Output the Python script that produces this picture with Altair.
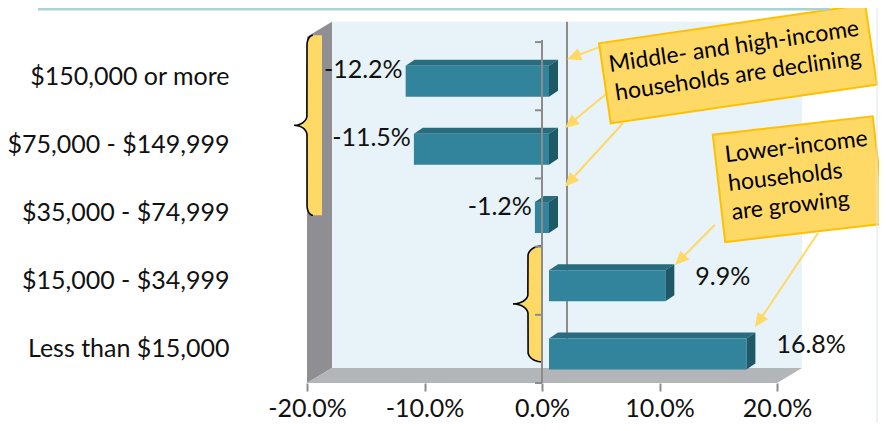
import json
import math
import altair as alt
import pandas as pd

# ---------------- data ----------------
categories = ["$150,000 or more", "$75,000 - $149,999", "$35,000 - $74,999",
              "$15,000 - $34,999", "Less than $15,000"]
changes = [-12.2, -11.5, -1.2, 9.9, 16.8]
x_ticks = [-20, -10, 0, 10, 20]

callout_1 = "Middle- and high-income\nhouseholds are declining"
callout_2 = "Lower-income\nhouseholds\nare growing"

# ---------------- layout ----------------
FONT = "Lato"
X_MIN, X_END = -20, 20
PX_X = 11.75                      # pixels per percentage point
W = 572
X_MAX = X_MIN + W / PX_X
H = 375
Y_MIN, Y_MAX = -0.5, 5.0
PX_Y = H / (Y_MAX - Y_MIN)
DX = 25 / PX_X                    # 3-D depth
DY = 15 / PX_Y
WALL_TOP = 4.8

FRONT, TOP, SIDE = "#31849B", "#286C7E", "#1F5867"
YELLOW, GOLD = "#FFD966", "#FFC000"

def px(v):
    return v / PX_X

def py(v):
    return v / PX_Y

xs = alt.Scale(domain=[X_MIN, X_MAX], nice=False, zero=False)
ys = alt.Scale(domain=[Y_MIN, Y_MAX], nice=False, zero=False)

n = len(categories)
bars = pd.DataFrame({
    "name": categories,
    "idx": [n - 1 - i for i in range(n)],
    "value": changes,
})
bars["lo"] = bars["value"].clip(upper=0)
bars["hi"] = bars["value"].clip(lower=0)

label_expr = "%s[datum.value]" % json.dumps(list(reversed(categories)))

# ---------------- walls ----------------
back = alt.Chart(pd.DataFrame({"x": [X_MIN + DX], "x2": [X_END + DX],
                               "y": [Y_MIN + DY], "y2": [WALL_TOP]})).mark_rect(
    color="#E7F3F8").encode(
    x=alt.X("x:Q", scale=xs,
            axis=alt.Axis(values=x_ticks, title=None, domain=False, grid=False,
                          tickSize=8, tickWidth=2, tickColor="#8C8C8C",
                          labelExpr="(datum.value < 0 ? '-' : '') + format(abs(datum.value), '.1f') + '%'",
                          labelFont=FONT, labelFontSize=25, labelColor="#111",
                          labelFlush=False, labelOverlap=False, labelPadding=5)),
    x2="x2:Q",
    y=alt.Y("y:Q", scale=ys,
            axis=alt.Axis(values=list(range(n)), title=None, domain=False, grid=False,
                          ticks=False, labelExpr=label_expr, labelFont=FONT,
                          labelFontSize=25, labelColor="#111", labelPadding=78,
                          labelLimit=0, labelFlush=False, labelOverlap=False)),
    y2="y2:Q",
)

left_wall = alt.Chart(pd.DataFrame({
    "x": [X_MIN, X_MIN + DX], "y": [Y_MIN, Y_MIN + DY],
    "y2": [WALL_TOP - DY, WALL_TOP]})).mark_area(
    orient="vertical", color="#8E8E93").encode(
    x=alt.X("x:Q", scale=xs), y=alt.Y("y:Q", scale=ys), y2="y2:Q")

floor = alt.Chart(pd.DataFrame({
    "y": [Y_MIN, Y_MIN + DY], "x": [X_MIN, X_MIN + DX],
    "x2": [X_END, X_END + DX]})).mark_area(
    orient="horizontal", color="#B2B6B9").encode(
    x=alt.X("x:Q", scale=xs), x2="x2:Q", y=alt.Y("y:Q", scale=ys))

back_zero = alt.Chart(pd.DataFrame({"x": [DX], "y": [Y_MIN + DY], "y2": [WALL_TOP]})).mark_rule(
    color="#8C8C8C", strokeWidth=2).encode(
    x=alt.X("x:Q", scale=xs), y=alt.Y("y:Q", scale=ys), y2="y2:Q")

# ---------------- braces ----------------
def brace(x0, y_top, y_bot, hook, tip, r, fill_to):
    pts = []
    ym = (y_top + y_bot) / 2
    steps = 12
    for k in range(steps + 1):          # top hook
        t = k / steps * math.pi / 2
        pts.append((x0 + px(hook) - px(hook) * math.sin(t), y_top - py(r) + py(r) * math.cos(t)))
    for k in range(1, steps + 1):       # to tip (upper half)
        t = k / steps * math.pi / 2
        pts.append((x0 - px(tip) + px(tip) * math.cos(t), ym + py(r) - py(r) * math.sin(t)))
    for k in range(1, steps + 1):       # from tip (lower half)
        t = k / steps * math.pi / 2
        pts.append((x0 - px(tip) + px(tip) * math.sin(t), ym - py(r) + py(r) * math.cos(t)))
    for k in range(1, steps + 1):       # bottom hook
        t = k / steps * math.pi / 2
        pts.append((x0 + px(hook) - px(hook) * math.cos(t), y_bot + py(r) - py(r) * math.sin(t)))
    df = pd.DataFrame(pts, columns=["x", "y"])
    df["x2"] = fill_to
    df["order"] = range(len(df))
    fill = alt.Chart(df).mark_area(orient="horizontal", color=YELLOW).encode(
        x=alt.X("x:Q", scale=xs), x2="x2:Q", y=alt.Y("y:Q", scale=ys))
    line = alt.Chart(df).mark_line(color="black", strokeWidth=1.6).encode(
        x=alt.X("x:Q", scale=xs), y=alt.Y("y:Q", scale=ys), order="order:Q")
    return fill + line

brace_top = brace(X_MIN, 4.60, 1.96, 6, 13, 10, X_MIN + px(15))
brace_low = brace(-px(14), 1.51, -0.19, 14, 15, 10, 0)

# ---------------- 3-D bars ----------------
OX, OY = px(7), py(5)          # front face offset
BX, BY = px(9), py(6)          # bar depth
HALF = py(15.5)

top_rows, side_rows = [], []
for _, r in bars.iterrows():
    nm, idx, lo, hi = r["name"], r["idx"], r["lo"], r["hi"]
    yt = idx + HALF - OY
    yb = idx - HALF - OY
    top_rows += [dict(name=nm, y=yt, x=lo + OX, x2=hi + OX),
                 dict(name=nm, y=yt + BY, x=lo + OX + BX, x2=hi + OX + BX)]
    side_rows += [dict(name=nm, x=hi + OX, y=yb, y2=yt),
                  dict(name=nm, x=hi + OX + BX, y=yb + BY, y2=yt + BY)]

bar_top = alt.Chart(pd.DataFrame(top_rows)).mark_area(orient="horizontal", color=TOP).encode(
    x=alt.X("x:Q", scale=xs), x2="x2:Q", y=alt.Y("y:Q", scale=ys), detail="name:N")
bar_side = alt.Chart(pd.DataFrame(side_rows)).mark_area(orient="vertical", color=SIDE).encode(
    x=alt.X("x:Q", scale=xs), y=alt.Y("y:Q", scale=ys), y2="y2:Q", detail="name:N")
bar_front = alt.Chart(bars).transform_calculate(
    yb=f"datum.idx - {HALF} - {OY}", yt=f"datum.idx + {HALF} - {OY}",
    xl=f"datum.lo + {OX}", xr=f"datum.hi + {OX}").mark_rect(color=FRONT).encode(
    x=alt.X("xl:Q", scale=xs), x2="xr:Q", y=alt.Y("yb:Q", scale=ys), y2="yt:Q")

# ---------------- front value axis ----------------
front_axis = alt.Chart(pd.DataFrame({"x": [0], "y": [Y_MIN], "y2": [4.53]})).mark_rule(
    color="#8C8C8C", strokeWidth=2).encode(
    x=alt.X("x:Q", scale=xs), y=alt.Y("y:Q", scale=ys), y2="y2:Q")
front_ticks = alt.Chart(pd.DataFrame({"y": [k + 0.5 for k in range(-1, n)]})).transform_calculate(
    x=f"{-px(7)}", x2="0").mark_rule(color="#8C8C8C", strokeWidth=2).encode(
    x=alt.X("x:Q", scale=xs), x2="x2:Q", y=alt.Y("y:Q", scale=ys))

# ---------------- value labels ----------------
lab = alt.Chart(bars).transform_calculate(
    label="(datum.value < 0 ? '-' : '') + format(abs(datum.value), '.1f') + '%'")
neg_labels = lab.transform_filter("datum.value < 0").mark_text(
    align="right", baseline="middle", dx=4, dy=-6, font=FONT, fontSize=25, color="#111").encode(
    x=alt.X("value:Q", scale=xs), y=alt.Y("idx:Q", scale=ys), text="label:N")
pos_labels = lab.transform_filter("datum.value > 0").mark_text(
    align="left", baseline="middle", dx=37, dy=-4, font=FONT, fontSize=25, color="#111").encode(
    x=alt.X("value:Q", scale=xs), y=alt.Y("idx:Q", scale=ys), text="label:N")

# ---------------- arrows ----------------
arrow_start_x = [4.94, 5.53, 6.89, 14.72, 23.49]
arrow_start_y = [4.43, 3.75, 3.31, 1.82, 1.70]
arrow_tip_x = [2.13, 1.96, 1.96, 11.32, 18.13]
arrow_tip_y = [4.25, 3.24, 2.38, 1.23, 0.32]

HEAD = 14
rows = []
for sx, sy, tx, ty in zip(arrow_start_x, arrow_start_y, arrow_tip_x, arrow_tip_y):
    dxp = (tx - sx) * PX_X
    dyp = -(ty - sy) * PX_Y
    L = math.hypot(dxp, dyp)
    ang = math.degrees(math.atan2(dxp, -dyp)) % 360
    ex = tx - px(dxp / L * (HEAD - 2))
    ey = ty + py(dyp / L * (HEAD - 2))
    rows.append(dict(sx=sx, sy=sy, ex=ex, ey=ey, tx=tx, ty=ty, ang=ang))
arrows = pd.DataFrame(rows)
arrow_lines = alt.Chart(arrows).mark_rule(color=YELLOW, strokeWidth=2).encode(
    x=alt.X("sx:Q", scale=xs), y=alt.Y("sy:Q", scale=ys), x2="ex:Q", y2="ey:Q")
arrow_heads = alt.Chart(arrows).mark_point(
    shape="M0,0L-0.45,1L0.45,1Z", filled=True, color=YELLOW, opacity=1,
    size=(2 * HEAD) ** 2).encode(
    x=alt.X("tx:Q", scale=xs), y=alt.Y("ty:Q", scale=ys),
    angle=alt.Angle("ang:Q", scale=None))

# ---------------- callout boxes ----------------
def callout(cx, cy, w_px, h_px, tilt, text, tx, ty, align):
    ratio = h_px / w_px
    shape = f"M-1,{-ratio}L1,{-ratio}L1,{ratio}L-1,{ratio}Z"
    ang = 360 - tilt
    box = alt.Chart(pd.DataFrame({"x": [cx], "y": [cy]})).mark_point(
        shape=shape, size=w_px ** 2, angle=ang, filled=True, fill=YELLOW,
        stroke=GOLD, strokeWidth=2, opacity=1, fillOpacity=1).encode(
        x=alt.X("x:Q", scale=xs), y=alt.Y("y:Q", scale=ys))
    txt = alt.Chart(pd.DataFrame({"x": [tx], "y": [ty], "t": [text]})).mark_text(
        align=align, baseline="middle", angle=ang, font=FONT, fontSize=23,
        lineHeight=29, lineBreak="\n", color="#000").encode(
        x=alt.X("x:Q", scale=xs), y=alt.Y("y:Q", scale=ys), text="t:N")
    return box + txt

# text anchors are at the first line of each callout
box1 = callout(16.68, 4.18, 269, 81, 8.3, callout_1, 16.34, 4.43, "center")
box2 = callout(21.87, 2.49, 161, 108, 6.6, callout_2, 15.57, 2.84, "left")

# ---------------- frame remnants ----------------
top_line = alt.Chart(pd.DataFrame({"x": [-42.9], "x2": [24.5], "y": [Y_MAX - py(1)]})).mark_rule(
    color="#A9D2D3", strokeWidth=3).encode(
    x=alt.X("x:Q", scale=xs), x2="x2:Q", y=alt.Y("y:Q", scale=ys))
right_line = alt.Chart(pd.DataFrame({"x": [X_MAX - px(2)], "y": [Y_MIN - py(40)], "y2": [Y_MAX]})).mark_rule(
    color="#DCE6EE", strokeWidth=1).encode(
    x=alt.X("x:Q", scale=xs), y=alt.Y("y:Q", scale=ys), y2="y2:Q")

chart = alt.layer(
    back, left_wall, floor, back_zero, brace_top, brace_low,
    bar_top, bar_side, bar_front, front_axis, front_ticks,
    neg_labels, pos_labels, arrow_lines, arrow_heads, box1, box2,
    top_line, right_line,
).properties(
    width=W, height=H,
    padding={"left": 299, "top": 0, "right": 0, "bottom": 40},
    autosize=alt.AutoSizeParams(type="none"),
    background="white",
).configure_view(stroke=None)

chart.save("out.html", embed_options={"renderer": "svg", "actions": False})
